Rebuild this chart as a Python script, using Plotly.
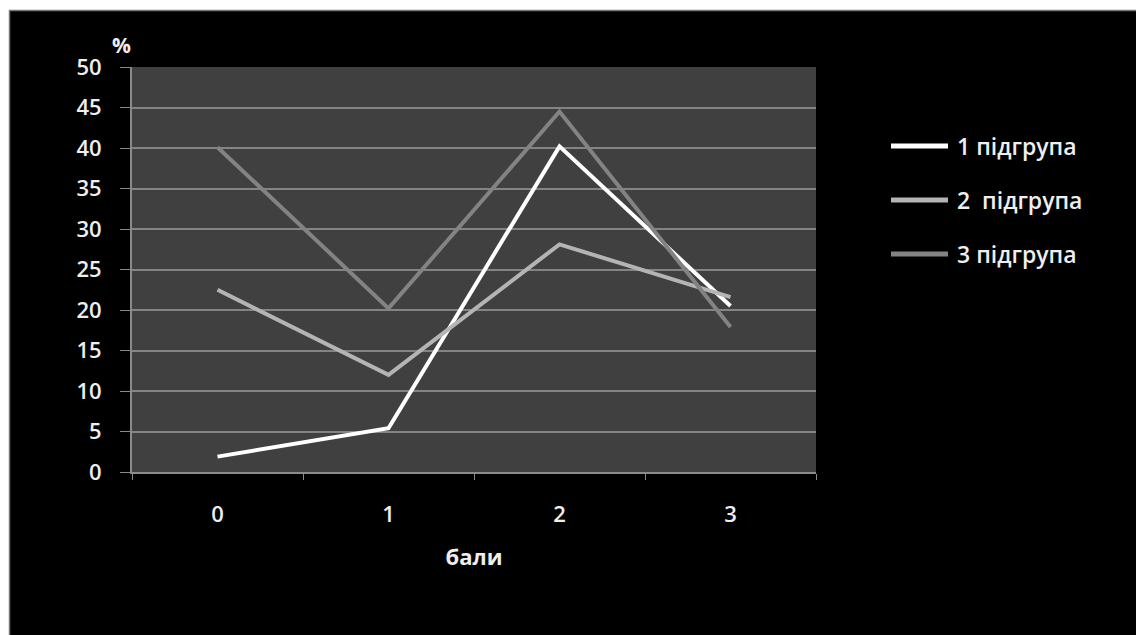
import plotly.graph_objects as go

categories = ["0", "1", "2", "3"]
series_names = ["1 підгрупа", "2  підгрупа", "3 підгрупа"]
group1 = [1.9, 5.4, 40.2, 20.5]
group2 = [22.5, 12.0, 28.1, 21.6]
group3 = [40.1, 20.2, 44.5, 17.9]
y_ticks = [0, 5, 10, 15, 20, 25, 30, 35, 40, 45, 50]

colors = ["#ffffff", "#b4b4b4", "#838383"]
FONT = "'Open Sans', Lato, sans-serif"
TXT = "#eeeeee"

W, H = 1136, 635
L, R, T, B = 132, 320, 67, 163
pw, ph = W - L - R, H - T - B


def px_x(p):
    return (p - L) / pw


def px_y(p):
    return (H - B - p) / ph


fig = go.Figure()
for i, (name, vals) in enumerate(zip(series_names, [group1, group2, group3])):
    fig.add_trace(go.Scatter(
        x=categories, y=vals, name=name, mode="lines",
        line=dict(color=colors[i], width=4),
        showlegend=False,
    ))

shapes = [
    dict(type="rect", xref="paper", yref="paper",
         x0=px_x(-5), x1=px_x(9), y0=px_y(H + 5), y1=px_y(-5),
         fillcolor="white", line=dict(width=0), layer="above"),
    dict(type="rect", xref="paper", yref="paper",
         x0=px_x(-5), x1=px_x(W + 5), y0=px_y(10), y1=px_y(-5),
         fillcolor="white", line=dict(width=0), layer="above"),
    dict(type="line", xref="paper", yref="paper",
         x0=px_x(9), x1=px_x(W + 5), y0=px_y(10.5), y1=px_y(10.5),
         line=dict(color="#777777", width=1.5), layer="above"),
    dict(type="line", xref="paper", yref="paper",
         x0=px_x(9.5), x1=px_x(9.5), y0=px_y(H + 5), y1=px_y(10),
         line=dict(color="#777777", width=1.5), layer="above"),
]

annotations = [
    dict(text="<b>%</b>", xref="paper", yref="paper",
         x=px_x(121), y=px_y(45), xanchor="center", yanchor="middle",
         showarrow=False, font=dict(size=21, color=TXT)),
]

# legend (custom, to match the long line swatches)
leg_y = [146, 200, 254]
for i, name in enumerate(series_names):
    shapes.append(dict(type="line", xref="paper", yref="paper",
                       x0=px_x(891), x1=px_x(948), y0=px_y(leg_y[i]), y1=px_y(leg_y[i]),
                       line=dict(color=colors[i], width=5), layer="above"))
    annotations.append(dict(text=name.replace("  ", "&nbsp; "), xref="paper", yref="paper",
                            x=px_x(955), y=px_y(leg_y[i]), xanchor="left", yanchor="middle",
                            showarrow=False, font=dict(size=23, color=TXT, weight=600)))

fig.update_layout(
    width=W, height=H,
    margin=dict(l=L, r=R, t=T, b=B, autoexpand=False),
    paper_bgcolor="black",
    plot_bgcolor="#404040",
    font=dict(family=FONT, color=TXT, size=20),
    shapes=shapes,
    annotations=annotations,
    showlegend=False,
)

fig.update_xaxes(
    type="category", range=[-0.5, 3.5],
    tickson="boundaries", ticks="outside", ticklen=6, tickcolor="#8a8a8a",
    showline=True, linecolor="#8a8a8a", linewidth=2,
    showgrid=False, zeroline=False,
    tickfont=dict(size=22, color=TXT, weight=600),
    ticklabelstandoff=22,
    title=dict(text="<b>бали</b>", font=dict(size=22, color=TXT), standoff=22),
)
fig.update_yaxes(
    range=[0, 50], tickvals=y_ticks,
    ticks="outside", ticklen=10, tickcolor="#8a8a8a",
    showline=True, linecolor="#8a8a8a", linewidth=2,
    showgrid=True, gridcolor="#848484", gridwidth=2,
    zeroline=False,
    tickfont=dict(size=22, color=TXT, weight=600),
    ticklabelstandoff=14,
)

fig.write_html("out.html")
